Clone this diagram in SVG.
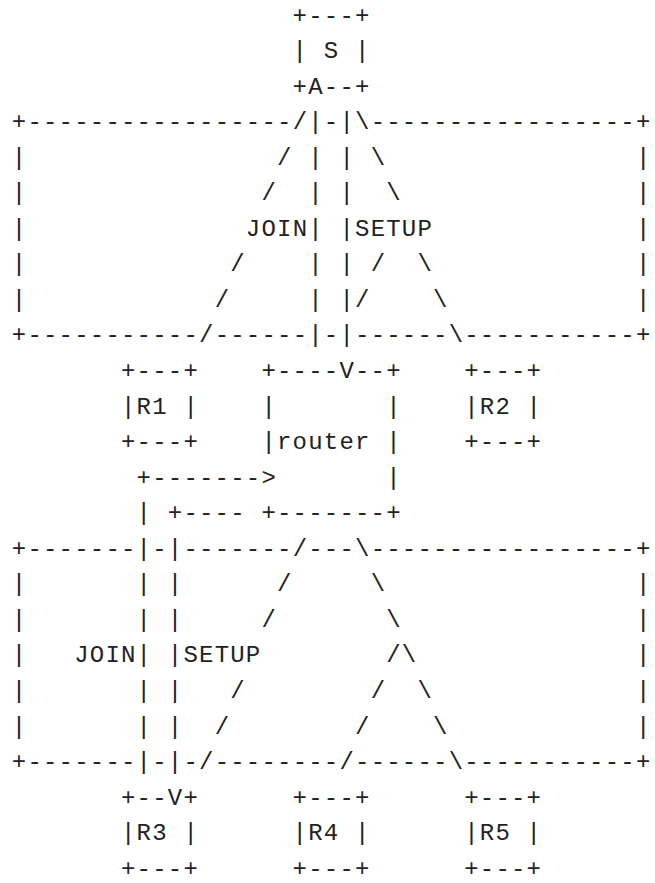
<svg xmlns="http://www.w3.org/2000/svg" width="655" height="883" viewBox="0 0 655 883">
<style>
text{font-family:"Liberation Mono","DejaVu Sans Mono",monospace;font-size:24px;letter-spacing:1.2px;fill:#222;white-space:pre}
</style>
<rect width="655" height="883" fill="#fff"/>
<g id="connectors" xml:space="preserve">
<text x="11.8" y="129.15">+-----------------/|-|\-----------------+</text>
<text x="11.8" y="164.7">|                / | | \                |</text>
<text x="11.8" y="200.25">|               /  | |  \               |</text>
<text x="11.8" y="235.8">|              JOIN| |SETUP             |</text>
<text x="11.8" y="271.35">|             /    | | /  \             |</text>
<text x="11.8" y="306.9">|            /     | |/    \            |</text>
<text x="11.8" y="342.45">+-----------/------|-|------\-----------+</text>
<text x="136.6" y="484.65">+-------&gt;</text>
<text x="136.6" y="520.2">| +----</text>
<text x="11.8" y="555.75">+-------|-|-------/---\-----------------+</text>
<text x="11.8" y="591.3">|       | |      /     \                |</text>
<text x="11.8" y="626.85">|       | |     /       \               |</text>
<text x="11.8" y="662.4">|   JOIN| |SETUP        /\              |</text>
<text x="11.8" y="697.95">|       | |   /        /  \             |</text>
<text x="11.8" y="733.5">|       | |  /        /    \            |</text>
<text x="11.8" y="769.05">+-------|-|-/--------/------\-----------+</text>
</g>
<g id="S" xml:space="preserve">
<text x="292.6" y="22.5">+---+</text>
<text x="292.6" y="58.05">| S |</text>
<text x="292.6" y="93.6">+A--+</text>
</g>
<g id="R1" xml:space="preserve">
<text x="121" y="378">+---+</text>
<text x="121" y="413.55">|R1 |</text>
<text x="121" y="449.1">+---+</text>
</g>
<g id="router" xml:space="preserve">
<text x="261.4" y="378">+----V--+</text>
<text x="261.4" y="413.55">|       |</text>
<text x="261.4" y="449.1">|router |</text>
<text x="386.2" y="484.65">|</text>
<text x="261.4" y="520.2">+-------+</text>
</g>
<g id="R2" xml:space="preserve">
<text x="464.2" y="378">+---+</text>
<text x="464.2" y="413.55">|R2 |</text>
<text x="464.2" y="449.1">+---+</text>
</g>
<g id="R3" xml:space="preserve">
<text x="121" y="804.6">+--V+</text>
<text x="121" y="840.15">|R3 |</text>
<text x="121" y="875.7">+---+</text>
</g>
<g id="R4" xml:space="preserve">
<text x="292.6" y="804.6">+---+</text>
<text x="292.6" y="840.15">|R4 |</text>
<text x="292.6" y="875.7">+---+</text>
</g>
<g id="R5" xml:space="preserve">
<text x="464.2" y="804.6">+---+</text>
<text x="464.2" y="840.15">|R5 |</text>
<text x="464.2" y="875.7">+---+</text>
</g>
</svg>
